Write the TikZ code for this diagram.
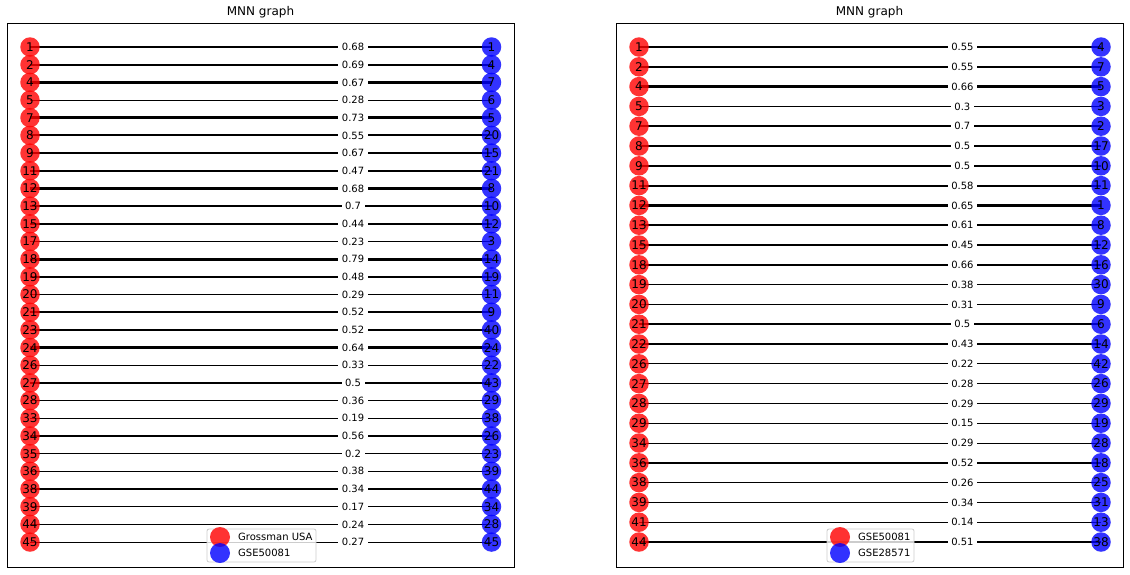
\documentclass[tikz,border=0pt]{standalone}
\usepackage{fontspec}
\setmainfont{DejaVu Sans}
\usetikzlibrary{calc}
\pgfdeclarelayer{bg}
\pgfsetlayers{bg,main}
\definecolor{mred}{RGB}{255,0,0}
\definecolor{mblue}{RGB}{0,0,255}
\definecolor{legedge}{RGB}{204,204,204}
\tikzset{
  rednode/.style={circle, fill=mred, fill opacity=0.8, text opacity=1, minimum size=19.5pt, inner sep=0pt, font=\fontsize{12}{12}\selectfont},
  bluenode/.style={circle, fill=mblue, fill opacity=0.8, text opacity=1, minimum size=19.5pt, inner sep=0pt, font=\fontsize{12}{12}\selectfont},
  wlabel/.style={fill=white, inner xsep=3.5pt, inner ysep=1pt, font=\fontsize{10}{10}\selectfont},
  frame/.style={draw=black, line width=0.8pt},
  titletext/.style={font=\fontsize{12}{12}\selectfont},
  legbox/.style={draw=legedge, fill=white, fill opacity=0.8, rounded corners=2pt, line width=0.8pt},
  legtext/.style={anchor=west, inner sep=0pt, font=\fontsize{10}{10}\selectfont},
  legred/.style={circle, fill=mred, fill opacity=0.8, minimum size=20pt, inner sep=0pt},
  legblue/.style={circle, fill=mblue, fill opacity=0.8, minimum size=20pt, inner sep=0pt},
}
\begin{document}
\begin{tikzpicture}[x=1pt,y=-1pt]
\useasboundingbox (0,0) rectangle (1130,574);
% frames
\draw[frame] (7,23) rectangle (514,567);
\draw[frame] (616,23) rectangle (1123,567);
\node[titletext] (t1) at (260.5,12.5) {MNN graph};
\node[titletext] (t2) at (869.5,12.5) {MNN graph};
% left panel
\foreach \r/\b/\w [count=\i] in {1/1/0.68, 2/4/0.69, 4/7/0.67, 5/6/0.28, 7/5/0.73, 8/20/0.55, 9/15/0.67, 11/21/0.47, 12/8/0.68, 13/10/0.7, 15/12/0.44, 17/3/0.23, 18/14/0.79, 19/19/0.48, 20/11/0.29, 21/9/0.52, 23/40/0.52, 24/24/0.64, 26/22/0.33, 27/43/0.5, 28/29/0.36, 33/38/0.19, 34/26/0.56, 35/23/0.2, 36/39/0.38, 38/44/0.34, 39/34/0.17, 44/28/0.24, 45/45/0.27}{
  \pgfmathsetmacro\lw{\w*3.4}
  \node[rednode] (lr\i) at (30,{47+(\i-1)*17.68}) {\r};
  \node[bluenode] (lb\i) at (491.5,{47+(\i-1)*17.68}) {\b};
  \begin{pgfonlayer}{bg}
  \draw[line width=\lw pt] (lr\i.center) -- (lb\i.center);
  \end{pgfonlayer}
  \node[wlabel] (lw\i) at ($(lr\i.center)!0.7!(lb\i.center)$) {\w};
}
% right panel
\foreach \r/\b/\w [count=\i] in {1/4/0.55, 2/7/0.55, 4/5/0.66, 5/3/0.3, 7/2/0.7, 8/17/0.5, 9/10/0.5, 11/11/0.58, 12/1/0.65, 13/8/0.61, 15/12/0.45, 18/16/0.66, 19/30/0.38, 20/9/0.31, 21/6/0.5, 22/14/0.43, 26/42/0.22, 27/26/0.28, 28/29/0.29, 29/19/0.15, 34/28/0.29, 36/18/0.52, 38/25/0.26, 39/31/0.34, 41/13/0.14, 44/38/0.51}{
  \pgfmathsetmacro\lw{\w*3.4}
  \node[rednode] (rr\i) at (639,{47+(\i-1)*19.8}) {\r};
  \node[bluenode] (rb\i) at (1101,{47+(\i-1)*19.8}) {\b};
  \begin{pgfonlayer}{bg}
  \draw[line width=\lw pt] (rr\i.center) -- (rb\i.center);
  \end{pgfonlayer}
  \node[wlabel] (rw\i) at ($(rr\i.center)!0.7!(rb\i.center)$) {\w};
}
% legends
\draw[legbox] (207,529) rectangle (316,562);
\node[legred] (lm1) at (220,537) {};
\node[legblue] (lm2) at (220,553) {};
\node[legtext] (ll1) at (238,537) {Grossman USA};
\node[legtext] (ll2) at (238,553) {GSE50081};
\draw[legbox] (827,529) rectangle (914,562);
\node[legred] (rm1) at (840,537) {};
\node[legblue] (rm2) at (840,553) {};
\node[legtext] (rl1) at (858,537) {GSE50081};
\node[legtext] (rl2) at (858,553) {GSE28571};
\end{tikzpicture}
\end{document}
